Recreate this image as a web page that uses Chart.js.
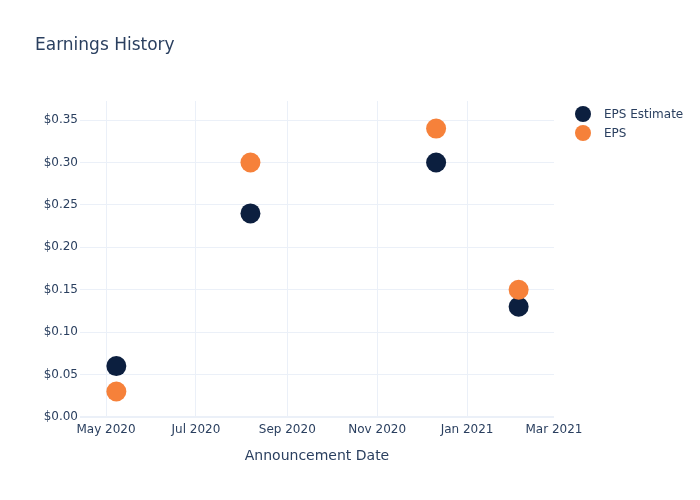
<!DOCTYPE html>
<html>
<head>
<meta charset="utf-8">
<script src="https://cdn.jsdelivr.net/npm/chart.js@4.4.1/dist/chart.umd.min.js"></script>
<style>
  html, body { margin: 0; padding: 0; background: #fff; }
  #wrap { width: 700px; height: 500px; position: relative; }
</style>
</head>
<body>
<div id="wrap"><canvas id="c" width="700" height="500"></canvas></div>
<script>
// ---- Data ----
const announcementDates = ['2020-05-08', '2020-08-07', '2020-12-11', '2021-02-05'];
const epsEstimate = [0.06, 0.24, 0.30, 0.13];
const epsActual = [0.03, 0.30, 0.34, 0.15];
const seriesNames = ['EPS Estimate', 'EPS'];
const seriesColors = ['#0c1f3f', '#f6813a'];
const xTickDates = ['2020-05-01', '2020-07-01', '2020-09-01', '2020-11-01', '2021-01-01', '2021-03-01'];
const xTickLabels = ['May 2020', 'Jul 2020', 'Sep 2020', 'Nov 2020', 'Jan 2021', 'Mar 2021'];
const chartTitle = 'Earnings History';
const xAxisTitle = 'Announcement Date';

const FONT = "'DejaVu Sans', sans-serif";
const TEXT = '#2a3f5f';
const GRID = '#ebf0f8';

const xMin = Date.parse('2020-04-13T08:00:00Z');
const xMax = Date.parse('2021-03-01T00:00:00Z');

function toPoints(vals) {
  return announcementDates.map((d, i) => ({ x: Date.parse(d), y: vals[i] }));
}

const overlay = {
  id: 'overlay',
  afterDraw(chart) {
    const ctx = chart.ctx;
    ctx.save();
    ctx.fillStyle = TEXT;
    ctx.font = '17px ' + FONT;
    ctx.textAlign = 'left';
    ctx.textBaseline = 'alphabetic';
    ctx.fillText(chartTitle, 35, 50);
    // legend
    ctx.font = '12px ' + FONT;
    ctx.textBaseline = 'middle';
    chart.data.datasets.forEach((ds, i) => {
      const y = 114 + i * 19;
      ctx.beginPath();
      ctx.arc(583, y, 8, 0, Math.PI * 2);
      ctx.fillStyle = ds.backgroundColor;
      ctx.fill();
      ctx.fillStyle = TEXT;
      ctx.fillText(ds.label, 604, y + 1);
    });
    ctx.restore();
  }
};

new Chart(document.getElementById('c'), {
  type: 'scatter',
  data: {
    datasets: [
      { label: seriesNames[0], data: toPoints(epsEstimate), backgroundColor: seriesColors[0], borderColor: seriesColors[0], pointRadius: 10, pointHoverRadius: 10, borderWidth: 0, order: 1 },
      { label: seriesNames[1], data: toPoints(epsActual), backgroundColor: seriesColors[1], borderColor: seriesColors[1], pointRadius: 10, pointHoverRadius: 10, borderWidth: 0, order: 0 }
    ]
  },
  options: {
    responsive: false,
    animation: false,
    layout: { padding: { left: 0, top: 101, right: 146, bottom: 0 } },
    plugins: {
      legend: { display: false },
      title: { display: false },
      tooltip: { enabled: true }
    },
    scales: {
      x: {
        type: 'linear',
        min: xMin,
        max: xMax,
        afterBuildTicks(scale) {
          scale.ticks = xTickDates.map(d => ({ value: Date.parse(d) }));
        },
        afterFit(scale) { scale.height = 83; },
        ticks: {
          autoSkip: false,
          maxRotation: 0,
          padding: 6,
          color: TEXT,
          font: { family: FONT, size: 12 },
          callback: (v, i) => xTickLabels[i]
        },
        grid: {
          drawTicks: false,
          color: (c) => (c.tick && c.tick.value >= xMax) ? 'rgba(0,0,0,0)' : GRID,
          lineWidth: 1
        },
        border: { display: false },
        title: {
          display: true,
          text: xAxisTitle,
          color: TEXT,
          font: { family: FONT, size: 14 },
          padding: { top: 0, bottom: 35 }
        }
      },
      y: {
        min: 0,
        max: 0.3725,
        afterFit(scale) { scale.width = 80; },
        ticks: {
          stepSize: 0.05,
          includeBounds: false,
          padding: 2,
          color: TEXT,
          font: { family: FONT, size: 12 },
          callback: (v) => '$' + Number(v).toFixed(2)
        },
        grid: {
          drawTicks: false,
          color: GRID,
          lineWidth: (c) => (c.tick && Math.abs(c.tick.value) < 1e-9) ? 2 : 1
        },
        border: { display: false }
      }
    }
  },
  plugins: [overlay]
});
</script>
</body>
</html>
